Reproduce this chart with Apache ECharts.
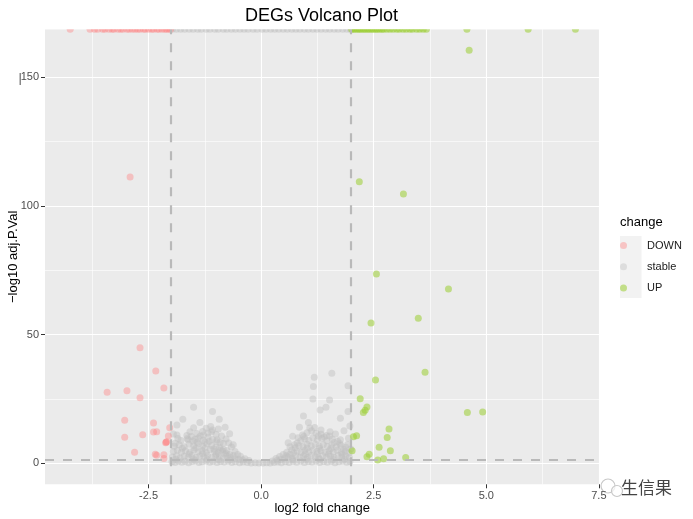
<!DOCTYPE html>
<html>
<head>
<meta charset="utf-8">
<script src="https://cdn.jsdelivr.net/npm/echarts@6/dist/echarts.min.js"></script>
<style>
  html, body { margin: 0; padding: 0; background: #fff; }
  #chart { width: 693px; height: 519px; }
</style>
</head>
<body>
<div id="chart"></div>
<script>
// tick labels
var xMajor = [-2.5, 0, 2.5, 5, 7.5];
var xMinor = [-3.75, -1.25, 1.25, 3.75, 6.25];
var yMajor = [0, 50, 100, 150];
var yMinor = [25, 75, 125];

// cut-offs drawn as dashed lines
var fcCut = 2;
var pCut = 1.3; // -log10(0.05)

// points with adj.P.Val = 0 (Inf) sit on the panel top edge
var yTop = 168.7;

// DOWN genes [log2FC, -log10 adj.P]
var downPts = [
  [-2.91, 111.3], [-2.69, 44.9], [-2.34, 35.9], [-2.16, 29.3], [-3.42, 27.6],
  [-2.98, 28.2], [-2.69, 25.5], [-3.03, 16.7], [-2.39, 15.7], [-2.39, 12.2],
  [-2.32, 12.3], [-2.63, 11.1], [-3.03, 10.1], [-2.03, 13.8], [-2.06, 10.6],
  [-2.12, 8.0], [-2.10, 8.4], [-2.81, 4.3], [-2.35, 3.5], [-2.32, 3.1],
  [-2.16, 3.3], [-2.16, 1.9], [-2.11, 8.2]
];
var downInfX = [-4.24, -3.80, -3.70, -3.63, -3.52, -3.47, -3.38, -3.31, -3.27, -3.18,
  -3.12, -3.07, -2.98, -2.93, -2.86, -2.80, -2.74, -2.69, -2.61, -2.57,
  -2.50, -2.43, -2.39, -2.31, -2.27, -2.20, -2.14, -2.10, -2.05, -2.01];

// UP genes
var upPts = [
  [4.62, 160.6], [2.18, 109.4], [3.16, 104.7], [2.56, 73.6], [4.16, 67.7],
  [3.49, 56.4], [2.44, 54.5], [3.64, 35.4], [2.54, 32.4], [2.20, 25.1],
  [2.35, 21.9], [2.31, 20.6], [2.27, 19.7], [4.58, 19.7], [4.92, 19.9],
  [2.84, 13.3], [2.80, 10.0], [2.12, 10.7], [2.05, 10.3], [2.62, 6.2],
  [2.87, 4.9], [2.02, 4.9], [2.40, 3.5], [2.35, 2.5], [2.72, 1.8],
  [2.59, 1.3], [3.21, 2.2]
];
var upInfX = [2.01, 2.05, 2.09, 2.14, 2.18, 2.22, 2.27, 2.31, 2.36, 2.40,
  2.45, 2.49, 2.54, 2.58, 2.63, 2.68, 2.72, 2.79, 2.86, 2.93,
  3.01, 3.07, 3.15, 3.22, 3.30, 3.36, 3.45, 3.52, 3.60, 3.67,
  4.57, 5.93, 6.98];

// stable genes
var stablePts = [
  // sparse outer points
  [-1.50, 21.8], [-1.74, 17.1], [-1.08, 20.1], [-0.93, 17.1], [-1.36, 15.9],
  [-1.87, 14.9], [-1.50, 13.8], [-1.58, 12.3], [-0.80, 14.0], [-1.87, 11.0],
  [-1.28, 11.0], [-1.10, 12.3], [-1.62, 9.1], [-1.47, 9.3], [-1.91, 7.8],
  [-0.98, 9.1], [-0.84, 7.8], [-1.95, 11.4], [-0.70, 11.5], [-0.62, 7.2],
  [1.57, 35.0], [1.18, 33.4], [1.16, 29.8], [1.93, 30.1], [1.15, 25.0],
  [1.52, 24.6], [1.31, 20.7], [1.44, 21.8], [0.94, 18.4], [1.93, 20.1],
  [1.76, 17.5], [1.05, 15.9], [0.85, 14.0], [1.33, 12.9], [1.53, 12.3],
  [1.76, 9.1], [1.94, 9.7], [0.70, 10.5], [0.60, 8.0], [1.84, 12.6],
  [1.65, 11.4], [1.97, 14.5], [-1.85, 9.6],
  // dense cloud
  [-1.98, 0.6], [-1.91, 0.3], [-1.84, 0.9], [-1.76, 0.4], [-1.69, 0.8],
  [-1.61, 0.2], [-1.53, 0.7], [-1.46, 1.0], [-1.38, 0.3], [-1.31, 0.6],
  [-1.22, 0.9], [-1.14, 0.4], [-1.07, 0.8], [-0.98, 0.3], [-0.90, 0.7],
  [-0.82, 0.5], [-0.73, 0.9], [-0.65, 0.3], [-0.57, 0.6], [-0.48, 0.2],
  [-0.40, 0.5], [-0.31, 0.3], [-0.22, 0.1], [-0.13, 0.2], [-0.05, 0.1],
  [0.04, 0.1], [0.12, 0.2], [0.20, 0.1], [0.29, 0.3], [0.37, 0.5],
  [0.45, 0.2], [0.54, 0.6], [0.62, 0.3], [0.71, 0.8], [0.79, 0.4],
  [0.88, 0.9], [0.96, 0.3], [1.05, 0.7], [1.13, 0.5], [1.22, 0.9],
  [1.30, 0.3], [1.39, 0.7], [1.47, 0.4], [1.56, 0.8], [1.64, 0.2],
  [1.73, 0.6], [1.81, 0.9], [1.90, 0.4], [1.97, 0.7],
  [-1.90, 1.6], [-1.50, 1.7], [-1.20, 1.6], [-0.95, 1.5], [-0.70, 1.4],
  [0.70, 1.5], [1.00, 1.6], [1.30, 1.6], [1.60, 1.5], [1.85, 1.7],
  [-1.97, 2.4], [-1.88, 2.9], [-1.80, 2.1], [-1.71, 2.7], [-1.62, 2.3],
  [-1.54, 3.0], [-1.45, 2.2], [-1.36, 2.8], [-1.27, 2.4], [-1.19, 3.1],
  [-1.10, 2.2], [-1.01, 2.9], [-0.93, 2.5], [-0.84, 2.1], [-0.76, 2.8],
  [-0.67, 2.2], [-0.58, 1.9], [-0.50, 1.6], [-0.41, 1.3], [0.36, 1.2],
  [0.44, 1.6], [0.52, 2.0], [0.60, 2.4], [0.69, 2.1], [0.77, 2.9],
  [0.86, 2.3], [0.94, 2.8], [1.03, 2.2], [1.11, 3.0], [1.20, 2.5],
  [1.28, 2.1], [1.37, 2.9], [1.45, 2.3], [1.54, 2.7], [1.62, 2.2],
  [1.71, 3.0], [1.79, 2.4], [1.88, 2.8], [1.96, 2.2],
  [-0.46, 2.7], [-0.36, 1.8], [-0.27, 1.1], [0.25, 0.9], [0.33, 1.9], [0.41, 2.6],
  [-1.60, 3.6], [-1.30, 3.7], [-1.00, 3.6], [-0.80, 3.5], [-0.52, 3.4],
  [0.49, 3.4], [0.98, 3.6], [1.25, 3.7], [1.50, 3.6], [1.80, 3.5],
  [-1.95, 4.6], [-1.86, 5.1], [-1.77, 4.3], [-1.68, 4.9], [-1.58, 4.4],
  [-1.49, 5.3], [-1.40, 4.5], [-1.31, 5.0], [-1.22, 4.2], [-1.13, 5.4],
  [-1.04, 4.6], [-0.95, 4.1], [-0.86, 4.8], [-0.78, 3.9], [-0.70, 3.4],
  [-0.62, 3.0], [0.56, 2.9], [0.64, 3.5], [0.72, 4.1], [0.80, 4.7],
  [0.89, 4.3], [0.97, 5.1], [1.06, 4.4], [1.15, 5.2], [1.24, 4.6],
  [1.33, 5.0], [1.42, 4.3], [1.51, 4.9], [1.60, 4.4], [1.69, 5.1],
  [1.78, 4.2], [1.87, 4.7], [1.95, 4.0], [-0.58, 4.6], [0.57, 4.3],
  [-1.75, 5.8], [-1.45, 5.9], [-1.25, 5.8], [-1.05, 5.6], [-0.90, 5.2],
  [1.02, 5.9], [1.30, 5.8], [1.55, 5.7], [1.83, 5.4], [1.99, 5.6],
  [-1.93, 6.6], [-1.82, 7.2], [-1.71, 6.4], [-1.60, 7.4], [-1.50, 6.8],
  [-1.39, 7.5], [-1.30, 6.6], [-1.20, 7.6], [-1.10, 6.9], [-1.00, 6.3],
  [-0.92, 6.1], [-0.84, 5.5], [-0.76, 5.0], [0.68, 5.2], [0.76, 6.0],
  [0.84, 6.8], [0.93, 6.4], [1.02, 7.4], [1.11, 6.7], [1.20, 7.5],
  [1.29, 6.6], [1.38, 7.3], [1.47, 6.5], [1.57, 7.1], [1.67, 6.3],
  [1.77, 6.9], [1.88, 6.2], [-0.66, 6.3], [0.64, 6.4], [1.92, 7.3],
  [-0.72, 7.9], [0.74, 7.2], [1.75, 7.6], [1.62, 8.1],
  [-1.42, 8.2], [-1.25, 8.3], [-1.15, 8.6],
  [-1.78, 8.9], [-1.64, 9.6], [-1.52, 8.7], [-1.40, 9.8], [-1.29, 9.0],
  [-1.18, 10.1], [-1.08, 9.2], [-0.99, 8.5], [-0.91, 8.1], [0.80, 7.9],
  [0.88, 8.8], [0.97, 9.5], [1.06, 8.9], [1.15, 9.9], [1.25, 9.1],
  [1.35, 9.7], [1.46, 8.8], [1.58, 9.4], [1.70, 8.6], [-0.78, 9.4], [0.82, 9.9],
  [-1.65, 10.8], [-1.55, 10.4], [-1.35, 10.6], [-0.88, 10.6], [0.95, 10.4],
  [1.27, 10.6], [1.40, 10.2], [1.52, 10.6],
  [-1.43, 11.6], [-1.30, 12.4], [-1.18, 11.8], [-1.08, 12.9], [-1.00, 11.2],
  [0.92, 11.0], [1.02, 11.9], [1.12, 12.6], [1.22, 11.7], [1.33, 11.3],
  [1.45, 10.8], [-1.22, 13.6], [-1.12, 14.3], [-0.95, 13.3], [1.08, 13.7], [1.19, 13.9]
];
var stableInfX = [-1.97, -1.88, -1.79, -1.70, -1.60, -1.51, -1.41, -1.33, -1.22, -1.14,
  -1.03, -0.95, -0.84, -0.76, -0.66, -0.57, -0.47, -0.38, -0.29, -0.18,
  -0.09, 0.02, 0.11, 0.21, 0.30, 0.39, 0.49, 0.58, 0.68, 0.77,
  0.86, 0.96, 1.05, 1.15, 1.24, 1.33, 1.43, 1.52, 1.62, 1.71,
  1.81, 1.90, 1.98];

function withInf(pts, infX) {
  return pts.concat(infX.map(function (x) { return [x, yTop]; }));
}

var chart = echarts.init(document.getElementById('chart'));
var font = 'Liberation Sans, Arial, sans-serif';

function pointSeries(name, color, alpha, data, extra) {
  var s = {
    name: name,
    type: 'scatter',
    xAxisIndex: 0,
    yAxisIndex: 0,
    symbolSize: 7,
    clip: false,
    silent: true,
    itemStyle: { color: color, opacity: alpha },
    data: data
  };
  if (extra) s.markLine = extra;
  return s;
}

var cutLines = {
  silent: true,
  symbol: ['none', 'none'],
  label: { show: false },
  lineStyle: { color: '#b9b9b9', width: 2.2, type: [9, 9], opacity: 1 },
  data: [{ xAxis: -fcCut }, { xAxis: fcCut }, { yAxis: pCut }]
};

chart.setOption({
  animation: false,
  textStyle: { fontFamily: font },
  title: {
    text: 'DEGs Volcano Plot',
    left: 240,
    top: 2,
    z: 100,
    textStyle: { fontSize: 18, fontWeight: 'normal', color: '#000', fontFamily: font }
  },
  grid: {
    left: 45, right: 93.7, top: 29.3, bottom: 34.7,
    outerBoundsMode: 'none',
    containLabel: false,
    show: true, backgroundColor: '#ebebeb', borderWidth: 0
  },
  legend: {
    orient: 'vertical',
    left: 620,
    top: 240,
    padding: 0,
    itemWidth: 21,
    itemHeight: 7,
    itemGap: 10.3,
    textStyle: { fontSize: 11, color: '#1a1a1a', padding: [0, 0, 0, 8] },
    data: [
      { name: 'DOWN', icon: 'circle', itemStyle: { color: '#ff8080', opacity: 0.4 } },
      { name: 'stable', icon: 'circle', itemStyle: { color: '#bebebe', opacity: 0.4 } },
      { name: 'UP', icon: 'circle', itemStyle: { color: '#9acd32', opacity: 0.55 } }
    ]
  },
  xAxis: [{
    type: 'value', min: -4.8, max: 7.51,
    name: 'log2 fold change', nameLocation: 'middle', nameGap: 18, nameMoveOverlap: false,
    nameTextStyle: { fontSize: 13, color: '#000' },
    axisLine: { show: false, onZero: false },
    axisTick: { show: true, length: 4, customValues: xMajor, lineStyle: { color: '#333', width: 1 } },
    axisLabel: { customValues: xMajor, fontSize: 11, color: '#4d4d4d', margin: 6,
      formatter: function (v) { return v.toFixed(1); } },
    splitLine: { show: true, lineStyle: { color: '#fff', width: 1.1 } }
  }, {
    type: 'value', min: -4.8, max: 7.51, position: 'bottom',
    axisLine: { show: false, onZero: false },
    axisTick: { show: false, customValues: xMinor },
    axisLabel: { show: false, customValues: xMinor },
    splitLine: { show: true, lineStyle: { color: '#fff', width: 0.6 } }
  }],
  yAxis: [{
    type: 'value', min: -8.17, max: yTop,
    name: '\u2212log10 adj.P.Val', nameLocation: 'middle', nameGap: 25, nameMoveOverlap: false,
    nameTextStyle: { fontSize: 13, color: '#000' },
    axisLine: { show: false, onZero: false },
    axisTick: { show: true, length: 4, customValues: yMajor, lineStyle: { color: '#333', width: 1 } },
    axisLabel: { customValues: yMajor, fontSize: 11, color: '#4d4d4d', margin: 6 },
    splitLine: { show: true, lineStyle: { color: '#fff', width: 1.1 } }
  }, {
    type: 'value', min: -8.17, max: yTop, position: 'left',
    axisLine: { show: false, onZero: false },
    axisTick: { show: false, customValues: yMinor },
    axisLabel: { show: false, customValues: yMinor },
    splitLine: { show: true, lineStyle: { color: '#fff', width: 0.6 } }
  }],
  series: [
    pointSeries('stable', '#bebebe', 0.45, withInf(stablePts, stableInfX)),
    pointSeries('DOWN', '#ff8080', 0.4, withInf(downPts, downInfX)),
    pointSeries('UP', '#9acd32', 0.55, withInf(upPts, upInfX), cutLines)
  ],
  graphic: [
    // hides the upper half of the points that sit on the top edge
    { type: 'rect', z: 50, silent: true, shape: { x: 0, y: 0, width: 693, height: 29.3 }, style: { fill: '#fff' } },
    { type: 'text', left: 620, top: 216, style: { text: 'change', fontSize: 13, fill: '#000', font: '13px ' + font } },
    { type: 'rect', z: -1, shape: { x: 620, y: 236, width: 21.5, height: 62 }, style: { fill: '#f2f2f2' } },
    { type: 'rect', shape: { x: 19.5, y: 73, width: 1.5, height: 12 }, style: { fill: '#888' } },
    { type: 'circle', shape: { cx: 608, cy: 486, r: 7 }, style: { fill: 'none', stroke: '#c8c8c8', lineWidth: 1.2 } },
    { type: 'circle', shape: { cx: 617, cy: 491, r: 5.5 }, style: { fill: 'rgba(255,255,255,0.7)', stroke: '#c8c8c8', lineWidth: 1.2 } },
    { type: 'text', left: 621, top: 479, style: { text: '生信果', fill: '#444', font: '17px "Noto Sans CJK SC", sans-serif' } }
  ]
});
</script>
</body>
</html>
